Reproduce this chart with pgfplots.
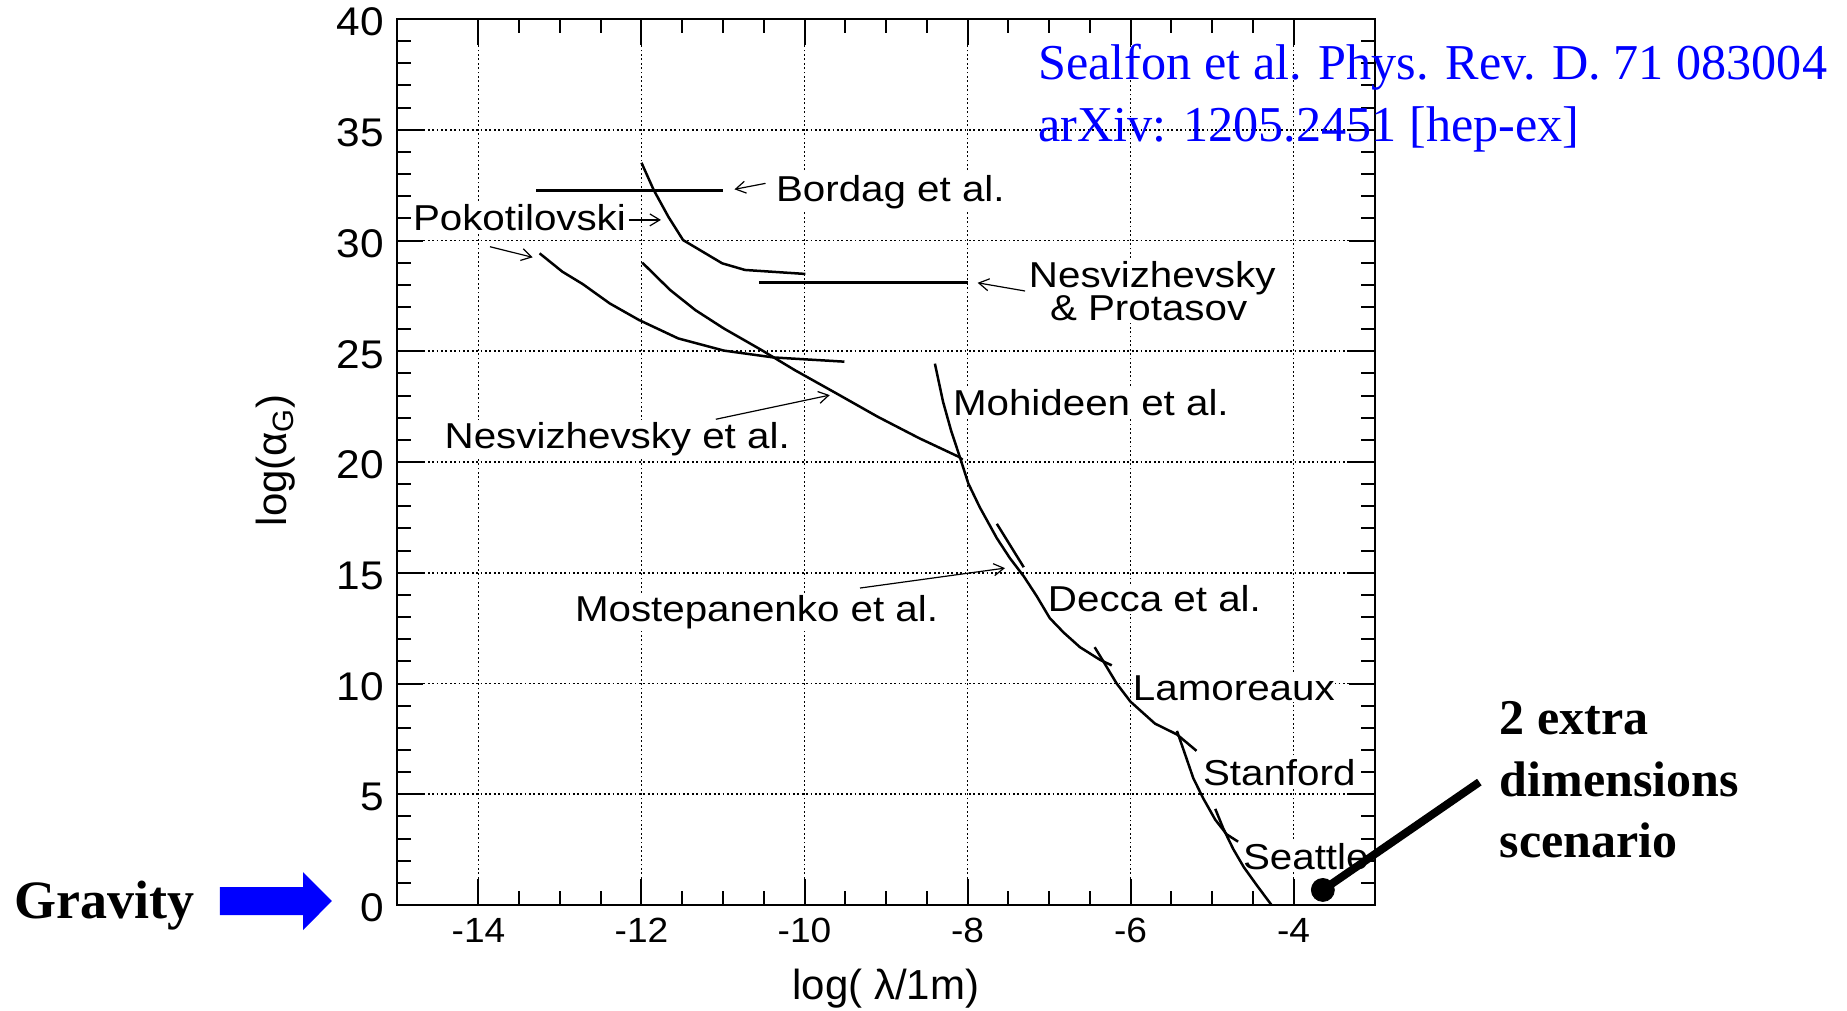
\documentclass[border=0pt]{standalone}
\usepackage{fontspec}
\usepackage{pgfplots}
\pgfplotsset{compat=1.18}
\usetikzlibrary{arrows.meta}
\setmainfont{Liberation Sans}
\newfontfamily\annfont{Liberation Sans}[FakeStretch=1.12]
\newfontfamily\tickfont{Liberation Sans}[FakeStretch=1.06]
\newfontfamily\serif{Liberation Serif}
\newcommand\annsize{\annfont\fontsize{18}{21}\selectfont}
\begin{document}
\begin{tikzpicture}
\begin{axis}[
  scale only axis, width=489pt, height=443pt,
  xmin=-15, xmax=-3, ymin=0, ymax=40,
  xtick={-14,-12,-10,-8,-6,-4}, ytick={0,5,...,40},
  minor x tick num=3, minor y tick num=4,
  major tick length=13pt, minor tick length=7pt,
  every tick/.style={line width=1pt, black},
  axis line style={line width=1pt},
  grid=major,
  major grid style={line width=0.9pt, dash pattern=on 0.9pt off 1.3pt, black},
  /pgf/number format/assume math mode=true,
  xticklabel style={font=\tickfont\fontsize{17.5}{20}\selectfont, anchor=north, inner sep=0pt, yshift=-6.5pt},
  yticklabel style={font=\tickfont\fontsize{20}{22}\selectfont, anchor=east, inner sep=0pt, xshift=-6.5pt, yshift=-1.5pt},
  xlabel={log( λ/1m)}, ylabel={log(α\textsubscript{G})},
  xlabel style={font=\fontsize{21}{24}\selectfont, at={(axis description cs:0.5,-0.1072)}, anchor=base, inner sep=0pt},
  ylabel style={font=\fontsize{21}{24}\selectfont, at={(axis description cs:-0.1125,0.502)}, anchor=base, inner sep=0pt},
  clip=false,
]
% labels with white background (drawn before curves)
\tikzset{lab/.style={anchor=base west, fill=white, inner xsep=0pt, inner ysep=1pt, xshift=-1.2pt, font=\annsize}}
\node[lab] at (axis cs:-10.325,31.78) {Bordag et al.};
\node[lab] at (axis cs:-14.779,30.43) {Pokotilovski};
\node[lab] at (axis cs:-7.221,27.88) {Nesvizhevsky};
\node[lab] at (axis cs:-6.963,26.39) {\& Protasov};
\node[lab] at (axis cs:-8.153,22.12) {Mohideen et al.};
\node[lab] at (axis cs:-14.390,20.62) {Nesvizhevsky et al.};
\node[lab] at (axis cs:-12.791,12.78) {Mostepanenko et al.};
\node[lab] at (axis cs:-6.988,13.23) {Decca et al.};
\node[lab] at (axis cs:-5.945,9.255) {Lamoreaux};
\node[lab] at (axis cs:-5.086,5.418) {Stanford};
\node[lab] at (axis cs:-4.595,1.625) {Seattle};

% curves
\addplot[black, line width=1.25pt] coordinates {(-12.00,33.51) (-11.85,32.28) (-11.67,31.07) (-11.49,30.02) (-11.01,28.97) (-10.73,28.67) (-9.99,28.49)};
\addplot[black, line width=1.6pt] coordinates {(-13.29,32.25) (-11.00,32.25)};
\addplot[black, line width=1.6pt] coordinates {(-10.56,28.12) (-8.00,28.12)};
\addplot[black, line width=1.25pt] coordinates {(-13.25,29.42) (-12.97,28.59) (-12.72,28.03) (-12.39,27.16) (-12.03,26.41) (-11.55,25.58) (-10.99,25.03) (-10.38,24.72) (-9.51,24.53)};
\addplot[black, line width=1.25pt] coordinates {(-11.99,29.0) (-11.65,27.77) (-11.34,26.86) (-10.99,26.03) (-10.53,25.06) (-10.12,24.15) (-9.61,23.10) (-9.10,22.04) (-8.59,21.07) (-8.11,20.24) (-8.06,20.10)};
\addplot[black, line width=1.25pt] coordinates {(-8.40,24.44) (-8.30,22.72) (-8.20,21.40) (-8.09,20.18) (-7.99,19.03) (-7.85,17.96) (-7.64,16.56) (-7.48,15.66) (-7.31,14.84) (-7.15,13.94) (-7.11,13.69) (-6.99,12.95) (-6.82,12.30) (-6.62,11.64) (-6.37,11.06) (-6.23,10.82)};
\addplot[black, line width=1.25pt] coordinates {(-7.64,17.21) (-7.31,15.25)};
\addplot[black, line width=1.25pt] coordinates {(-6.44,11.64) (-6.33,10.98) (-6.17,10.0) (-6.00,9.18) (-5.70,8.19) (-5.43,7.70) (-5.19,6.96)};
\addplot[black, line width=1.25pt] coordinates {(-5.43,7.86) (-5.33,6.80) (-5.23,5.73) (-5.11,4.83) (-4.96,3.85) (-4.82,3.19) (-4.68,2.86)};
\addplot[black, line width=1.25pt] coordinates {(-4.96,4.34) (-4.86,3.44) (-4.74,2.53) (-4.61,1.71) (-4.45,0.89) (-4.27,0.0)};

% annotation arrows
\tikzset{ann/.style={line width=0.6pt, -{Straight Barb[length=5pt,width=6pt]}}}
\draw[ann] (axis cs:-10.478,32.58) -- (axis cs:-10.859,32.31);
\draw[ann] (axis cs:-12.156,30.93) -- (axis cs:-11.761,30.93);
\draw[ann] (axis cs:-13.859,29.72) -- (axis cs:-13.336,29.24);
\draw[ann] (axis cs:-7.294,27.72) -- (axis cs:-7.875,28.09);
\draw[ann] (axis cs:-11.088,21.93) -- (axis cs:-9.690,23.02);
\draw[ann] (axis cs:-9.319,14.31) -- (axis cs:-7.540,15.21);

% extra dimensions scenario
\addplot[black, line width=4pt] coordinates {(-3.64,0.68) (-1.72,5.55)};
\addplot[only marks, mark=*, mark size=5.75pt, black] coordinates {(-3.64,0.68)};
\node[anchor=base west, inner sep=0pt, font=\serif\bfseries\fontsize{25}{30}\selectfont] at (axis cs:-1.472,7.72) {2 extra};
\node[anchor=base west, inner sep=0pt, font=\serif\bfseries\fontsize{25}{30}\selectfont] at (axis cs:-1.472,4.92) {dimensions};
\node[anchor=base west, inner sep=0pt, font=\serif\bfseries\fontsize{25}{30}\selectfont] at (axis cs:-1.472,2.14) {scenario};

% reference text
\node[anchor=base west, inner sep=0pt, text=blue, font=\serif\fontsize{25.1}{30}\selectfont] at (axis cs:-7.135,37.25) {Sealfon et al. Phys. Rev. D. 71 083004};
\node[anchor=base west, inner sep=0pt, text=blue, font=\serif\fontsize{25.1}{30}\selectfont] at (axis cs:-7.135,34.45) {arXiv: 1205.2451 [hep-ex]};

% gravity
\node[anchor=base west, inner sep=0pt, font=\serif\bfseries\fontsize{27}{30}\selectfont] at (axis cs:-19.70,-0.587) {Gravity};
\fill[blue] (axis cs:-17.172,0.813) -- (axis cs:-16.153,0.813) -- (axis cs:-16.153,1.490) -- (axis cs:-15.798,0.181) -- (axis cs:-16.153,-1.129) -- (axis cs:-16.153,-0.451) -- (axis cs:-17.172,-0.451) -- cycle;

\coordinate (bbA) at (axis cs:-19.871,-4.740);
\coordinate (bbB) at (axis cs:2.791,40.858);
\end{axis}
\pgfresetboundingbox
\path[use as bounding box] (bbA) rectangle (bbB);
\end{tikzpicture}
\end{document}
